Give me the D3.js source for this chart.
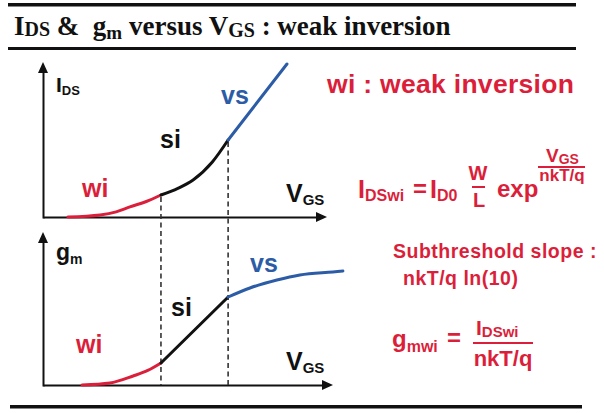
<!DOCTYPE html>
<html>
<head>
<meta charset="utf-8">
<script src="https://cdn.jsdelivr.net/npm/d3@7"></script>
<style>
  body { margin: 0; background: #fff; }
  text { font-family: "Liberation Sans", Arial, sans-serif; font-weight: bold; }
  .title { font-family: "Liberation Serif", "Times New Roman", serif; }
</style>
</head>
<body>
<div id="vis"></div>
<script>
const red = '#db1f3b', blue = '#2d5ca6'

// VGS in arbitrary units (0..10), IDS and gm in arbitrary units (0..10)
const idsWi = [[0.87, 0], [1.99, 0.13], [2.55, 0.33], [3.03, 0.65], [3.6, 1.0], [4.11, 1.42]]
const idsSi = [[4.11, 1.42], [4.7, 1.85], [5.23, 2.39], [5.9, 3.55], [6.45, 4.97]]
const idsVs = [[6.45, 4.97], [8.5, 9.87]]

const gmWi = [[1.36, 0], [2.33, 0.13], [3.14, 0.59], [3.65, 0.95], [4.11, 1.44]]
const gmSi = [[4.11, 1.44], [6.45, 5.75]]
const gmVs = [[6.45, 5.75], [7.21, 6.34], [8.15, 6.86], [8.95, 7.19], [10.1, 7.39], [10.45, 7.45]]

// region boundaries wi|si and si|vs
const bounds = [4.11, 6.45]

const W = 604, H = 413

const svg = d3.select('#vis')
    .append('svg')
    .attr('width', W)
    .attr('height', H)

const xScale = d3.scaleLinear().domain([0, 10]).range([43, 330])
const yTop = d3.scaleLinear().domain([0, 10]).range([217, 62])
const yBot = d3.scaleLinear().domain([0, 10]).range([385, 232])

// title band
svg.append('rect').attr('x', 8).attr('y', 3).attr('width', 568).attr('height', 3.5).attr('fill', '#111')
svg.append('rect').attr('x', 8).attr('y', 47).attr('width', 568).attr('height', 3).attr('fill', '#111')
svg.append('rect').attr('x', 10).attr('y', 405).attr('width', 572).attr('height', 3.5).attr('fill', '#111')

const title = svg.append('text').attr('class', 'title')
    .attr('x', 14).attr('y', 35).attr('font-size', 27).attr('fill', '#111')
title.append('tspan').text('I')
title.append('tspan').attr('font-size', 20).attr('dy', 1).text('DS')
title.append('tspan').attr('dy', -1).text(' &\u00a0 g')
title.append('tspan').attr('font-size', 19).attr('dy', 4).text('m')
title.append('tspan').attr('dy', -4).text(' versus V')
title.append('tspan').attr('font-size', 20).attr('dy', 2).text('GS')
title.append('tspan').attr('dy', -2).text(' : weak inversion')

// axes with arrow heads
function drawAxes(yScale, tipX, tipY){
    const x0 = xScale(0), y0 = yScale(0)
    const axX = d3.scaleLinear().range([x0, tipX - 8])
    const axY = d3.scaleLinear().range([y0 + 1, tipY + 8])

    svg.append('g')
        .attr('transform', `translate(0,${y0})`)
        .call(d3.axisBottom(axX).tickValues([]).tickSizeOuter(0))
        .call(g => g.select('.domain').attr('stroke', '#111').attr('stroke-width', 2))

    svg.append('g')
        .attr('transform', `translate(${x0},0)`)
        .call(d3.axisLeft(axY).tickValues([]).tickSizeOuter(0))
        .call(g => g.select('.domain').attr('stroke', '#111').attr('stroke-width', 2))

    svg.append('path')
        .attr('d', `M${tipX},${y0}L${tipX - 11},${y0 - 5}L${tipX - 11},${y0 + 5}Z`)
        .attr('fill', '#111')
    svg.append('path')
        .attr('d', `M${x0},${tipY}L${x0 - 5},${tipY + 11}L${x0 + 5},${tipY + 11}Z`)
        .attr('fill', '#111')
}
drawAxes(yTop, 327, 62)
drawAxes(yBot, 333, 232)

// dashed boundaries from the IDS curve down to the gm axis
const idsAt = [idsWi[idsWi.length - 1][1], idsSi[idsSi.length - 1][1]]
svg.selectAll('.bound')
    .data(bounds)
    .join('line')
    .attr('class', 'bound')
    .attr('x1', d => xScale(d))
    .attr('x2', d => xScale(d))
    .attr('y1', (d, i) => yTop(idsAt[i]) + 2)
    .attr('y2', yBot(0))
    .attr('stroke', '#333')
    .attr('stroke-width', 1.6)
    .attr('stroke-dasharray', '5,3.5')

// curves
function curve(data, yScale, color){
    const line = d3.line()
        .x(d => xScale(d[0]))
        .y(d => yScale(d[1]))
        .curve(d3.curveMonotoneX)
    svg.append('path')
        .datum(data)
        .attr('d', line)
        .attr('fill', 'none')
        .attr('stroke', color)
        .attr('stroke-width', 3)
        .attr('stroke-linecap', 'round')
}
curve(idsWi, yTop, red)
curve(idsSi, yTop, '#111')
curve(idsVs, yTop, blue)
curve(gmWi, yBot, red)
curve(gmSi, yBot, '#111')
curve(gmVs, yBot, blue)

// text with an optional subscript
function label(x, y, main, sub, size, subSize, color, dy){
    const t = svg.append('text').attr('x', x).attr('y', y).attr('font-size', size).attr('fill', color)
    t.append('tspan').text(main)
    if (sub) t.append('tspan').attr('font-size', subSize).attr('dy', dy).text(sub)
    return t
}
label(56, 92, 'I', 'DS', 21, 13, '#111', 3)
label(286, 202, 'V', 'GS', 25, 15, '#111', 3)
label(56, 260, 'g', 'm', 23, 14, '#111', 4)
label(286, 370, 'V', 'GS', 25, 15, '#111', 3)

// region labels
label(82, 197, 'wi', null, 25, 0, red)
label(160, 148, 'si', null, 25, 0, '#111')
label(221, 104, 'vs', null, 25, 0, blue)
label(76, 353, 'wi', null, 25, 0, red)
label(171, 316, 'si', null, 25, 0, '#111')
label(250, 272, 'vs', null, 25, 0, blue)

// right side annotations
svg.append('text').attr('x', 327).attr('y', 93).attr('font-size', 26.5).attr('letter-spacing', 0.3)
    .attr('fill', red).text('wi : weak inversion')

label(358, 198, 'I', 'DSwi', 25, 16, red, 3)
svg.append('text').attr('x', 413).attr('y', 197).attr('font-size', 24).attr('fill', red).text('=')
label(430, 198, 'I', 'D0', 25, 16, red, 3)
svg.append('text').attr('x', 478).attr('y', 180).attr('font-size', 20).attr('text-anchor', 'middle').attr('fill', red).text('W')
svg.append('line').attr('x1', 472).attr('x2', 485).attr('y1', 187).attr('y2', 187).attr('stroke', red).attr('stroke-width', 2)
svg.append('text').attr('x', 479).attr('y', 207).attr('font-size', 20).attr('text-anchor', 'middle').attr('fill', red).text('L')
svg.append('text').attr('x', 497).attr('y', 197).attr('font-size', 24).attr('fill', red).text('exp')
label(546, 162, 'V', 'GS', 19, 14, red, 2)
svg.append('line').attr('x1', 538).attr('x2', 585).attr('y1', 167).attr('y2', 167).attr('stroke', red).attr('stroke-width', 2)
svg.append('text').attr('x', 562).attr('y', 181).attr('font-size', 17).attr('text-anchor', 'middle').attr('fill', red).text('nkT/q')

svg.append('text').attr('x', 393).attr('y', 258).attr('font-size', 19.5).attr('letter-spacing', 0.5)
    .attr('fill', red).text('Subthreshold slope :')
svg.append('text').attr('x', 403).attr('y', 285).attr('font-size', 19.5).attr('letter-spacing', 0.5)
    .attr('fill', red).text('nkT/q ln(10)')

label(392, 347, 'g', 'mwi', 24, 16, red, 5)
svg.append('text').attr('x', 447).attr('y', 346).attr('font-size', 24).attr('fill', red).text('=')
label(476, 335, 'I', 'DSwi', 21, 15, red, 2)
svg.append('line').attr('x1', 473).attr('x2', 533).attr('y1', 343).attr('y2', 343).attr('stroke', red).attr('stroke-width', 2)
svg.append('text').attr('x', 503).attr('y', 366).attr('font-size', 22).attr('text-anchor', 'middle').attr('fill', red).text('nkT/q')
</script>
</body>
</html>
